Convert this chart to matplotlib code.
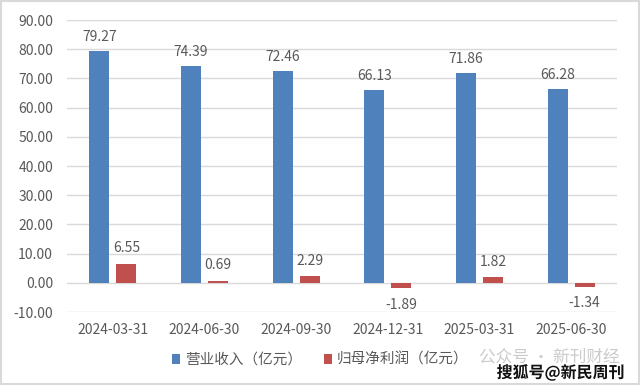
import matplotlib.pyplot as plt
import matplotlib.patheffects as pe
import numpy as np

plt.rcParams['font.family'] = ['Noto Sans CJK SC', 'DejaVu Sans']

# ------ data ------
dates = ['2024-03-31', '2024-06-30', '2024-09-30', '2024-12-31', '2025-03-31', '2025-06-30']
revenue = [79.27, 74.39, 72.46, 66.13, 71.86, 66.28]
net_profit = [6.55, 0.69, 2.29, -1.89, 1.82, -1.34]
yticks = [-10, 0, 10, 20, 30, 40, 50, 60, 70, 80, 90]

# ------ plot ------
fig = plt.figure(figsize=(6.4, 3.85), dpi=100)
ax = fig.add_axes([0.1047, 0.1896, 0.8594, 0.7584])

x = np.arange(len(dates))
w = 0.217
off = 0.147
txt_col = '#595959'

b1 = ax.bar(x - off, revenue, w, color='#4F81BD', label='营业收入（亿元）', zorder=3)
b2 = ax.bar(x + off, net_profit, w, color='#C0504D', label='归母净利润（亿元）', zorder=3)

for xi, v in zip(x, revenue):
    ax.annotate(f'{v:.2f}', (xi - off, v), xytext=(0, 5), textcoords='offset points',
                ha='center', va='bottom', fontsize=10, color=txt_col)
for xi, v in zip(x, net_profit):
    if v >= 0:
        ax.annotate(f'{v:.2f}', (xi + off, v), xytext=(0, 6), textcoords='offset points',
                    ha='center', va='bottom', fontsize=10, color=txt_col)
    else:
        ax.annotate(f'{v:.2f}', (xi + off, v), xytext=(0, -7), textcoords='offset points',
                    ha='center', va='top', fontsize=10, color=txt_col)

ax.set_xlim(-0.5, len(dates) - 0.5)
ax.set_ylim(-10, 90)
ax.set_yticks(yticks)
ax.set_yticklabels([f'{t:.2f}' for t in yticks])
ax.set_xticks(x)
ax.set_xticklabels(dates)
ax.tick_params(axis='both', length=0, labelsize=10, labelcolor=txt_col)
ax.tick_params(axis='y', pad=10)
ax.tick_params(axis='x', pad=8)
ax.grid(axis='y', color='#d9d9d9', linewidth=1, zorder=0)
for s in ax.spines.values():
    s.set_visible(False)

fig.legend(handles=[b1, b2], loc='center', bbox_to_anchor=(0.5, 0.065), ncol=2, frameon=False,
           fontsize=10.5, handlelength=0.6, handleheight=0.6, handletextpad=0.3, columnspacing=1.5,
           labelcolor=txt_col)

# frame round the picture
fig.patches.append(plt.Rectangle((0.002, 0.003), 0.996, 0.994, transform=fig.transFigure,
                                 fill=False, edgecolor='#d9d9d9', linewidth=1.5))

# watermarks
fig.text(0.748, 0.072, '公众号 · 新刊财经', fontsize=12, color='#bfbfbf', alpha=0.8, ha='left', va='center')
fig.text(0.976, 0.032, '搜狐号@新民周刊', fontsize=11.5, fontweight='bold', color='#111111', ha='right',
         va='center', path_effects=[pe.withStroke(linewidth=2.5, foreground='white')])

fig.savefig('out.png', dpi=100)
